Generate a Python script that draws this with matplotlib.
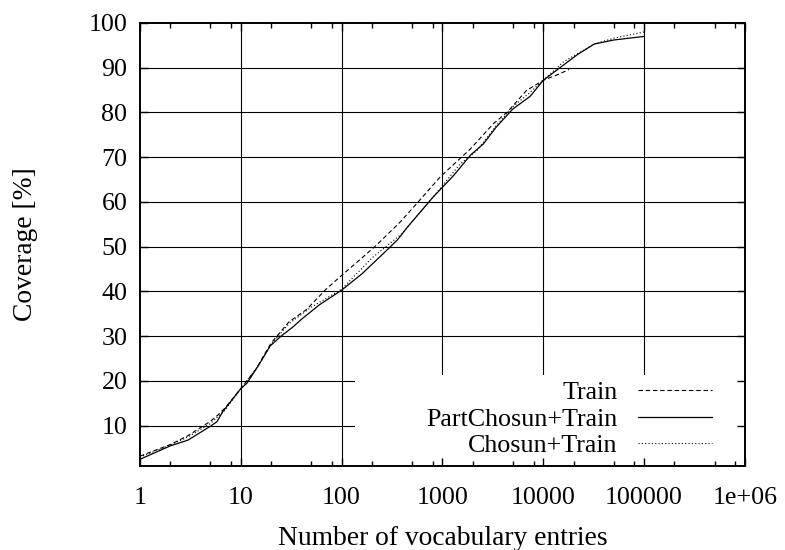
import matplotlib
matplotlib.use("Agg")
import matplotlib.pyplot as plt
from matplotlib.patches import Rectangle
from matplotlib.ticker import FixedLocator, FixedFormatter, NullFormatter

plt.rcParams['font.family'] = ['Liberation Serif', 'DejaVu Serif']
plt.rcParams['font.size'] = 18.7

# coverage curves (vocabulary size vs. coverage in %)
train_x = [1, 2, 3, 4, 5, 6, 7, 10, 14, 20, 30, 45, 70, 100, 150, 220, 380,
           600, 950, 1900, 3200, 4400, 6800, 10000, 14000, 18000]
train_y = [3.2, 5.8, 7.8, 9.6, 11.0, 12.5, 14.0, 18.3, 22.5, 28.5, 33.2, 36.0,
           40.5, 43.6, 47.0, 50.3, 55.5, 60.5, 65.6, 71.9, 77.5, 80.1, 84.9,
           87.2, 88.5, 89.6]

part_x = [1, 2, 3, 5, 5.8, 6.6, 8, 10, 11.5, 15, 19.5, 25, 33, 40, 60, 100,
          160, 280, 360, 450, 800, 1300, 1900, 2550, 3400, 5000, 7400, 10000,
          15000, 22000, 32000, 50000, 100000]
part_y = [2.5, 5.5, 6.8, 9.9, 10.9, 13.1, 15.5, 18.3, 19.5, 23.5, 27.8, 30.0,
          32.1, 33.8, 37.0, 40.3, 44.0, 49.2, 51.6, 54.4, 61.0, 66.0, 70.5,
          73.0, 76.7, 80.8, 83.6, 87.2, 90.2, 93.0, 95.3, 96.2, 97.0]

chosun_x = [1, 2, 3, 5, 7, 10, 15, 20, 30, 50, 100, 200, 400, 800, 1500, 2200,
            3400, 5000, 7400, 10000, 15800, 32000, 50000, 100000]
chosun_y = [3.0, 5.7, 7.5, 10.5, 13.5, 18.3, 23.5, 28.2, 32.8, 36.5, 40.5,
            47.5, 53.0, 61.0, 68.5, 71.5, 77.0, 81.3, 84.5, 87.2, 91.3, 95.3,
            96.6, 98.0]

x_ticks = [1, 10, 100, 1000, 10000, 100000, 1000000]
x_labels = ['1', '10', '100', '1000', '10000', '100000', '1e+06']
y_ticks = [10, 20, 30, 40, 50, 60, 70, 80, 90, 100]

fig = plt.figure(figsize=(7.85, 5.5), dpi=100)
ax = fig.add_axes([0.1783, 0.1527, 0.7707, 0.8055])
ax.set_xscale('log')
ax.set_xlim(1, 1e6)
ax.set_ylim(1, 100)

# grid lines, hidden behind the key box in the lower right
for xv in x_ticks[1:-1]:
    ax.axvline(xv, color='black', lw=0.8, zorder=1)
for yv in y_ticks[:-1]:
    ax.axhline(yv, color='black', lw=0.8, zorder=1)
ax.add_patch(Rectangle((0.355, 0.0), 0.645, 0.205, transform=ax.transAxes,
                       facecolor='white', edgecolor='none', zorder=1.2))

ax.plot(train_x, train_y, color='black', lw=0.8, ls=(0, (4, 2.5)),
        label='Train', zorder=2)
ax.plot(part_x, part_y, color='black', lw=0.9, ls='-',
        label='PartChosun+Train', zorder=2)
ax.plot(chosun_x, chosun_y, color='black', lw=0.8, ls=(0, (1, 2)),
        label='Chosun+Train', zorder=2)

ax.xaxis.set_major_locator(FixedLocator(x_ticks))
ax.xaxis.set_major_formatter(FixedFormatter(x_labels))
minors = [m * 10 ** d for d in range(6) for m in (2, 5, 8)]
ax.xaxis.set_minor_locator(FixedLocator(minors))
ax.xaxis.set_minor_formatter(NullFormatter())
ax.yaxis.set_major_locator(FixedLocator(y_ticks))
ax.set_axisbelow(False)

ax.tick_params(which='major', direction='in', length=6, width=1,
               top=True, right=True, color='black')
ax.tick_params(which='minor', direction='in', length=3.5, width=1,
               top=True, right=True)
ax.tick_params(axis='x', which='major', pad=15)
ax.tick_params(axis='y', which='major', pad=9)

for sp in ax.spines.values():
    sp.set_linewidth(1.4)
    sp.set_zorder(3)

ax.set_xlabel('Number of vocabulary entries', fontsize=19.8)
ax.set_ylabel('Coverage [%]', fontsize=19.8)
ax.xaxis.set_label_coords(0.5, -0.135)
ax.yaxis.set_label_coords(-0.168, 0.5)

leg = ax.legend(loc='center right', bbox_to_anchor=(0.945, 0.106),
                frameon=False, markerfirst=False, borderpad=0,
                borderaxespad=0, handlelength=2.84, handletextpad=0.78,
                labelspacing=0.12)
leg.set_zorder(5)

fig.savefig('out.png', dpi=100)
